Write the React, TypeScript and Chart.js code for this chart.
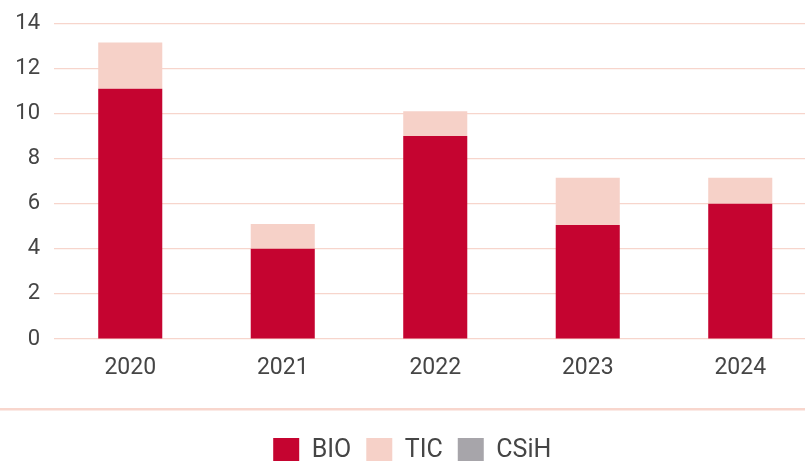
import { useEffect, useRef } from 'react';
import { Chart, registerables } from 'chart.js';

Chart.register(...registerables);

const categories = ['2020', '2021', '2022', '2023', '2024'];
const bioValues = [11.1, 4, 9, 5.05, 6];
const ticValues = [2.05, 1.1, 1.1, 2.1, 1.15];
const csihValues = [0, 0, 0, 0, 0];
const seriesNames = ['BIO', 'TIC', 'CSiH'];
const seriesColors = ['#c50430', '#f6d1c8', '#a7a5aa'];

const FONT = 'Roboto, "Noto Sans", sans-serif';
const TEXT = '#454545';

const bottomLine = {
  id: 'bottomLine',
  afterDraw(chart: any) {
    const ctx = chart.ctx;
    const y = chart.scales.x.top + 70;
    ctx.save();
    ctx.fillStyle = '#f8d6cd';
    ctx.fillRect(0, y - 1, chart.width, 2.5);
    ctx.restore();
  },
};

export default function App() {
  const ref = useRef<HTMLCanvasElement>(null);
  useEffect(() => {
    document.body.style.margin = '0';
    document.body.style.overflow = 'hidden';
    const chart = new Chart(ref.current!, {
      type: 'bar',
      data: {
        labels: categories,
        datasets: [bioValues, ticValues, csihValues].map((d, i) => ({
          label: seriesNames[i],
          data: d,
          backgroundColor: seriesColors[i],
          borderWidth: 0,
          categoryPercentage: 1,
          barPercentage: 0.42,
        })),
      },
      options: {
        animation: false,
        responsive: true,
        maintainAspectRatio: false,
        layout: { padding: { top: 23.3, right: 13.5, left: 8, bottom: -12 } },
        plugins: {
          tooltip: { enabled: false },
          legend: {
            position: 'bottom',
            labels: {
              boxWidth: 26,
              boxHeight: 25,
              padding: 15,
              color: TEXT,
              font: { family: FONT, size: 25 },
            },
          },
        },
        scales: {
          x: {
            stacked: true,
            grid: { display: false, drawTicks: false },
            border: { display: false },
            ticks: { color: TEXT, font: { family: FONT, size: 23 }, padding: 15 },
            afterFit(scale: any) {
              scale.height = 84;
            },
          },
          y: {
            stacked: true,
            min: 0,
            max: 14,
            grid: { color: '#f7d5cc', lineWidth: 1.2, drawTicks: false },
            border: { display: false },
            ticks: { stepSize: 2, color: TEXT, font: { family: FONT, size: 22 }, padding: 14 },
            afterFit(scale: any) {
              scale.width = 46;
              scale.paddingTop = 0;
              scale.paddingBottom = 0;
            },
          },
        },
      },
      plugins: [bottomLine],
    });
    return () => chart.destroy();
  }, []);
  return (
    <div style={{ width: 805, height: 461, overflow: 'hidden' }}>
      <div style={{ width: 830, height: 461 }}>
        <canvas ref={ref} />
      </div>
    </div>
  );
}
